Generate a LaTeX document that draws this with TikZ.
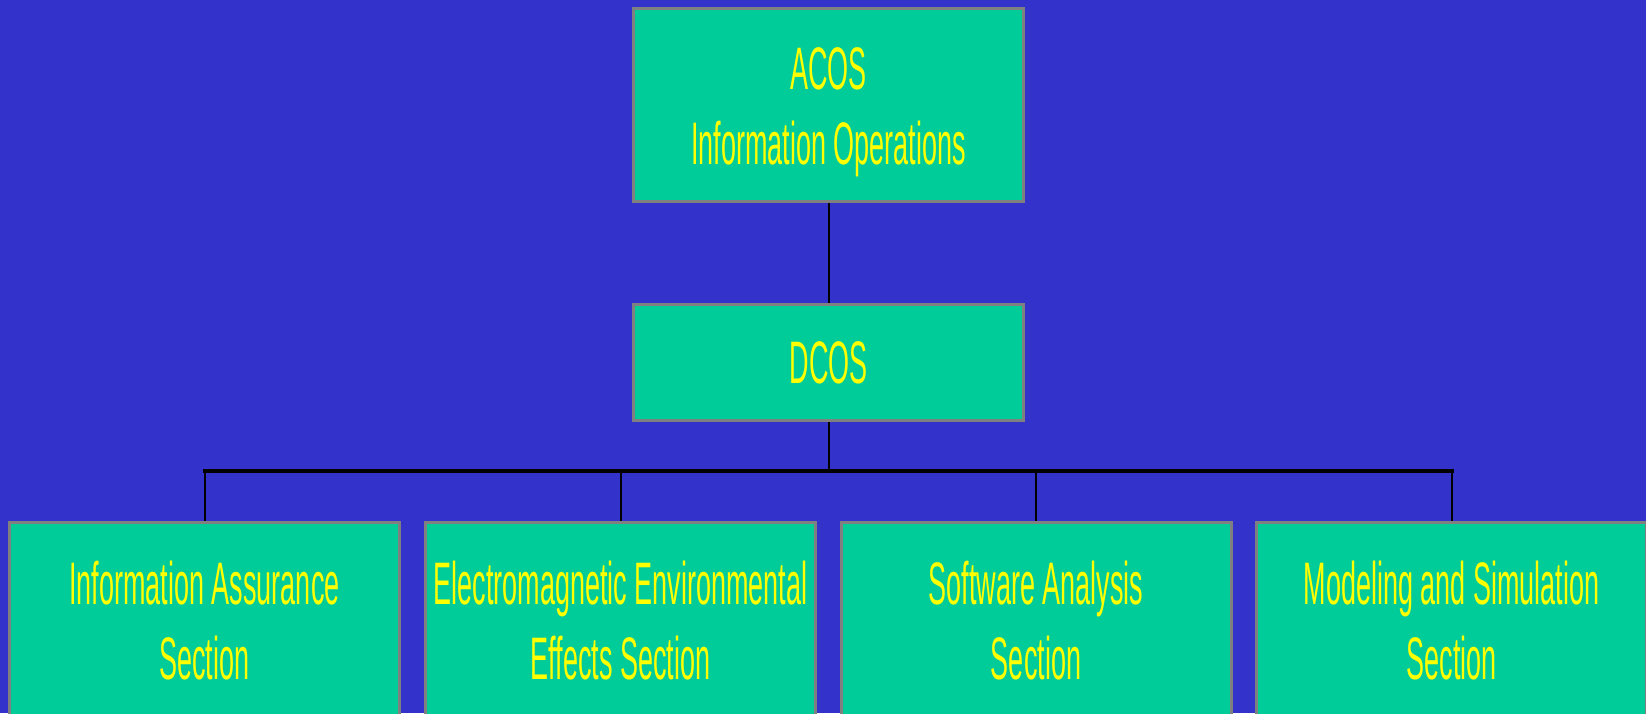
\documentclass[tikz,border=0pt]{standalone}
\usepackage{fontspec}
\setmainfont{Liberation Sans}[FakeStretch=0.45]
\definecolor{bgblue}{RGB}{51,51,204}
\definecolor{boxgreen}{RGB}{0,204,153}
\definecolor{boxgray}{RGB}{128,128,128}
\definecolor{txtyellow}{RGB}{255,255,0}
\begin{document}
\begin{tikzpicture}[x=1pt,y=-1pt,
  orgbox/.style={draw=boxgray, line width=3pt, fill=boxgreen, inner sep=0pt,
    minimum width=390pt, text=txtyellow, align=center,
    font=\fontsize{60}{75}\selectfont},
  link/.style={draw=black, line width=2pt},
  buslink/.style={draw=black, line width=4pt, line cap=rect}]
\fill[bgblue] (0,0) rectangle (1646,713);
\useasboundingbox (0,0) rectangle (1646,713);

\node[orgbox, minimum height=193pt] (acos) at (828.5,105) {\rule{0pt}{57pt}ACOS\\Information Operations};
\node[orgbox, minimum height=116pt] (dcos) at (828.5,362.5) {DCOS};

\node[orgbox, minimum height=197pt] (b1) at (204.5,621) {Information Assurance\\Section};
\node[orgbox, minimum height=197pt] (b2) at (620.5,621) {Electromagnetic Environmental\\Effects Section};
\node[orgbox, minimum height=197pt] (b3) at (1036,621) {Software Analysis\\Section};
\node[orgbox, minimum height=197pt] (b4) at (1451.5,621) {Modeling and Simulation\\Section};

\coordinate (bus) at (828.5,471);

\draw[link] (acos.south) -- (dcos.north);
\draw[link] (dcos.south) -- (bus);
\draw[buslink] (b1.north |- bus) -- (b4.north |- bus);
\foreach \b in {b1,b2,b3,b4}{
  \draw[link] (\b.north |- bus) -- (\b.north);
}
\end{tikzpicture}
\end{document}
